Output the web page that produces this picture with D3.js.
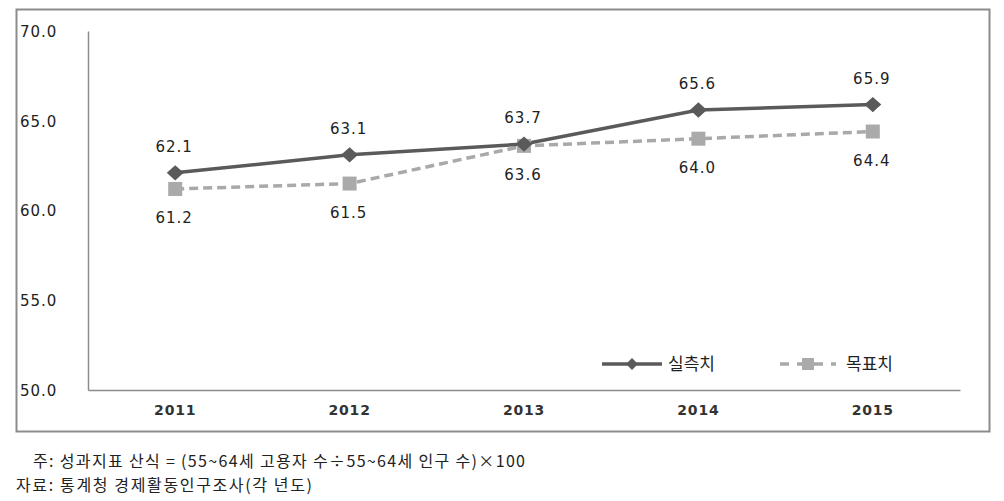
<!DOCTYPE html>
<html><head><meta charset="utf-8">
<script src="https://cdn.jsdelivr.net/npm/d3@7"></script>
<style>body{margin:0;background:#fff}svg{display:block}</style>
</head><body>
<svg id="c" width="1004" height="501"></svg>
<script>
const years = ["2011","2012","2013","2014","2015"];
const actual = [62.1, 63.1, 63.7, 65.6, 65.9];
const target = [61.2, 61.5, 63.6, 64.0, 64.4];
const yTicks = [50, 55, 60, 65, 70];
const seriesNames = ["실측치", "목표치"];
const notes = ["주: 성과지표 산식 = (55~64세 고용자 수÷55~64세 인구 수)×100", "자료: 통계청 경제활동인구조사(각 년도)"];

const svg = d3.select("#c");
const numFont = "'DejaVu Sans', Verdana, sans-serif";
const krFont = "'Noto Sans CJK KR', sans-serif";

// outer border
svg.append("rect").attr("x",16.5).attr("y",9.5).attr("width",973).attr("height",422)
  .attr("fill","none").attr("stroke","#8c8c8c").attr("stroke-width",2);

const x = d3.scaleBand().domain(years).range([88, 960]);
const y = d3.scaleLinear().domain([50, 70]).range([390, 31]);

// y axis
const yAxis = d3.axisLeft(y).tickValues(yTicks).tickSize(0).tickFormat(d3.format(".1f"));
const gy = svg.append("g").attr("transform","translate(88,0)").call(yAxis);
gy.select(".domain").attr("stroke","#8c8c8c").attr("stroke-width",1.5);
gy.selectAll("text").attr("x",-68).attr("text-anchor","start").attr("dy","0.36em")
  .attr("font-family",numFont).attr("font-size",15).attr("letter-spacing",1).attr("fill","#222");

// x axis
const xAxis = d3.axisBottom(x).tickSize(0);
const gx = svg.append("g").attr("transform","translate(0,390)").call(xAxis);
gx.select(".domain").attr("stroke","#8c8c8c").attr("stroke-width",1.5);
gx.selectAll("text").attr("dy","1.55em").attr("font-family",numFont).attr("font-size",14)
  .attr("font-weight","bold").attr("letter-spacing",0.8).attr("fill","#333");

const cx = d => x(d) + x.bandwidth()/2;
const line = d3.line().x((d,i)=>cx(years[i])).y(d=>y(d));

// target dashed line
svg.append("path").datum(target).attr("d",line).attr("fill","none")
  .attr("stroke","#a9a9a9").attr("stroke-width",3.5).attr("stroke-dasharray","9,5");
// actual line
svg.append("path").datum(actual).attr("d",line).attr("fill","none")
  .attr("stroke","#5a5a5a").attr("stroke-width",3.5);

// target squares
svg.selectAll(".sq").data(target).enter().append("rect")
  .attr("x",(d,i)=>cx(years[i])-7).attr("y",d=>y(d)-7).attr("width",14).attr("height",14)
  .attr("fill","#aaaaaa");
// actual diamonds
const diamond = d3.symbol().type(d3.symbolDiamond2).size(150);
svg.selectAll(".dm").data(actual).enter().append("path")
  .attr("d",diamond).attr("transform",(d,i)=>`translate(${cx(years[i])},${y(d)}) scale(1.1,1)`)
  .attr("fill","#5a5a5a");

// data labels
svg.selectAll(".la").data(actual).enter().append("text")
  .attr("x",(d,i)=>cx(years[i])-1).attr("y",d=>y(d)-21).attr("text-anchor","middle")
  .attr("font-family",numFont).attr("font-size",15).attr("letter-spacing",1).attr("fill","#222").text(d=>d.toFixed(1));
svg.selectAll(".lt").data(target).enter().append("text")
  .attr("x",(d,i)=>cx(years[i])-1).attr("y",d=>y(d)+34).attr("text-anchor","middle")
  .attr("font-family",numFont).attr("font-size",15).attr("letter-spacing",1).attr("fill","#222").text(d=>d.toFixed(1));

// legend
const lg = svg.append("g");
lg.append("line").attr("x1",602).attr("x2",662).attr("y1",364).attr("y2",364)
  .attr("stroke","#5a5a5a").attr("stroke-width",3.5);
lg.append("path").attr("d",d3.symbol().type(d3.symbolDiamond2).size(90))
  .attr("transform","translate(632,364)").attr("fill","#5a5a5a");
lg.append("text").attr("x",668).attr("y",370).attr("font-family",krFont).attr("font-size",17)
  .attr("fill","#222").text(seriesNames[0]);
lg.append("line").attr("x1",780).attr("x2",836).attr("y1",364).attr("y2",364)
  .attr("stroke","#a9a9a9").attr("stroke-width",3.5).attr("stroke-dasharray","9,8");
lg.append("rect").attr("x",802).attr("y",358).attr("width",12).attr("height",12).attr("fill","#aaaaaa");
lg.append("text").attr("x",846).attr("y",370).attr("font-family",krFont).attr("font-size",17)
  .attr("fill","#222").text(seriesNames[1]);

// notes
svg.append("text").attr("x",33).attr("y",467).attr("font-family",krFont).attr("font-size",16)
  .attr("textLength",492).attr("lengthAdjust","spacing")
  .attr("fill","#222").text(notes[0]);
svg.append("text").attr("x",16).attr("y",491).attr("font-family",krFont).attr("font-size",16)
  .attr("textLength",296).attr("lengthAdjust","spacing")
  .attr("fill","#222").text(notes[1]);
</script>
</body></html>
